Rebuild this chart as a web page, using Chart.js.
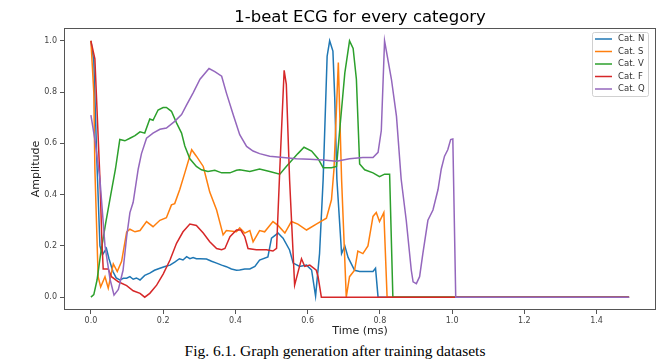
<!DOCTYPE html>
<html>
<head>
<meta charset="utf-8">
<script src="https://cdn.jsdelivr.net/npm/chart.js@4.4.1/dist/chart.umd.min.js"></script>
<style>
  html, body { margin: 0; padding: 0; background: #fff; }
  #wrap { position: relative; width: 670px; height: 364px; }
  #ecgChart { position: absolute; left: 0; top: 0; }
  #title {
    position: absolute; left: 64px; top: 7px; width: 592px; text-align: center;
    font-family: "DejaVu Sans", Verdana, sans-serif; font-size: 16.5px; line-height: 20px; color: #000;
  }
  #caption {
    position: absolute; left: 0; top: 342px; width: 670px; text-align: center;
    font-family: "Liberation Serif", "Times New Roman", serif; font-size: 15.5px; line-height: 18px; color: #000;
  }
</style>
</head>
<body>
<div id="wrap">
  <canvas id="ecgChart" width="670" height="338"></canvas>
  <div id="title">1-beat ECG for every category</div>
  <div id="caption">Fig. 6.1. Graph generation after training datasets</div>
</div>
<script>
// categories and tick labels
const categories = ['Cat. N', 'Cat. S', 'Cat. V', 'Cat. F', 'Cat. Q'];
const xTicks = [0, 0.2, 0.4, 0.6, 0.8, 1.0, 1.2, 1.4];
const yTicks = [0, 0.2, 0.4, 0.6, 0.8, 1.0];

// --- Cat. N ---
const timeN = [0, 0.008, 0.016, 0.025, 0.032, 0.043, 0.05, 0.061, 0.07, 0.08, 0.09, 0.099, 0.108, 0.117, 0.126, 0.136,
  0.149, 0.163, 0.176, 0.191, 0.205, 0.219, 0.232, 0.245, 0.255, 0.265, 0.274, 0.283, 0.292, 0.302, 0.32, 0.334,
  0.348, 0.362, 0.375, 0.389, 0.403, 0.412, 0.426, 0.44, 0.454, 0.467, 0.49, 0.5, 0.518, 0.532, 0.55, 0.56, 0.578,
  0.597, 0.611, 0.622, 0.633, 0.643, 0.654, 0.661, 0.67, 0.675, 0.681, 0.694, 0.703, 0.712, 0.73, 0.744, 0.76,
  0.781, 0.788, 0.795, 1.49];
const ampN = [1.0, 0.92, 0.55, 0.2, 0.165, 0.19, 0.15, 0.1, 0.075, 0.067, 0.074, 0.074, 0.08, 0.07, 0.075, 0.067,
  0.085, 0.094, 0.105, 0.113, 0.12, 0.125, 0.137, 0.15, 0.145, 0.158, 0.15, 0.155, 0.15, 0.15, 0.149, 0.14,
  0.133, 0.125, 0.119, 0.11, 0.105, 0.106, 0.11, 0.11, 0.12, 0.145, 0.157, 0.23, 0.25, 0.23, 0.184, 0.133, 0.12,
  0.125, 0.106, 0.004, 0.17, 0.46, 0.94, 1.0, 0.96, 0.78, 0.46, 0.17, 0.2, 0.155, 0.105, 0.1, 0.1,
  0.1, 0.113, 0, 0];

// --- Cat. S ---
const timeS = [0, 0.008, 0.011, 0.02, 0.027, 0.039, 0.048, 0.062, 0.073, 0.085, 0.099, 0.108, 0.122, 0.136, 0.154,
  0.172, 0.191, 0.209, 0.223, 0.232, 0.246, 0.26, 0.279, 0.292, 0.311, 0.32, 0.329, 0.348, 0.366, 0.375, 0.403,
  0.412, 0.426, 0.44, 0.449, 0.467, 0.481, 0.504, 0.518, 0.537, 0.555, 0.573, 0.597, 0.624, 0.652, 0.666, 0.673,
  0.685, 0.694, 0.707, 0.716, 0.73, 0.739, 0.753, 0.767, 0.781, 0.79, 0.799, 0.811, 0.82, 1.49];
const ampS = [1.0, 0.8, 0.5, 0.08, 0.04, 0.08, 0.035, 0.13, 0.1, 0.14, 0.255, 0.265, 0.255, 0.26, 0.295,
  0.275, 0.3, 0.31, 0.36, 0.365, 0.42, 0.485, 0.575, 0.55, 0.51, 0.46, 0.41, 0.34, 0.243, 0.26, 0.255,
  0.27, 0.25, 0.26, 0.216, 0.26, 0.255, 0.295, 0.28, 0.25, 0.295, 0.285, 0.262, 0.285, 0.308, 0.38, 0.5,
  0.915, 0.46, 0, 0.08, 0.105, 0.18, 0.17, 0.2, 0.315, 0.33, 0.295, 0.33, 0, 0];

// --- Cat. V ---
const timeV = [0, 0.008, 0.017, 0.027, 0.041, 0.055, 0.068, 0.08, 0.094, 0.108, 0.122, 0.136, 0.149, 0.163, 0.172,
  0.186, 0.2, 0.209, 0.223, 0.237, 0.251, 0.26, 0.274, 0.292, 0.306, 0.324, 0.343, 0.362, 0.385, 0.403, 0.412,
  0.44, 0.467, 0.495, 0.523, 0.541, 0.56, 0.573, 0.59, 0.611, 0.629, 0.643, 0.666, 0.68, 0.689, 0.703, 0.716,
  0.726, 0.735, 0.744, 0.758, 0.781, 0.799, 0.813, 0.827, 0.836, 1.49];
const ampV = [0, 0.01, 0.067, 0.17, 0.29, 0.4, 0.5, 0.615, 0.61, 0.62, 0.63, 0.645, 0.64, 0.695, 0.69,
  0.73, 0.74, 0.74, 0.725, 0.68, 0.64, 0.59, 0.54, 0.51, 0.497, 0.49, 0.495, 0.485, 0.485, 0.495, 0.497,
  0.49, 0.5, 0.49, 0.48, 0.51, 0.54, 0.56, 0.585, 0.57, 0.54, 0.505, 0.505, 0.51, 0.655, 0.875, 1.0,
  0.97, 0.85, 0.52, 0.497, 0.485, 0.47, 0.48, 0.48, 0, 0];

// --- Cat. F ---
const timeF = [0, 0.011, 0.025, 0.03, 0.034, 0.048, 0.057, 0.076, 0.099, 0.117, 0.136, 0.149, 0.163, 0.182, 0.2,
  0.219, 0.237, 0.255, 0.274, 0.292, 0.311, 0.329, 0.348, 0.362, 0.371, 0.385, 0.403, 0.415, 0.426, 0.435, 0.458,
  0.486, 0.504, 0.514, 0.523, 0.535, 0.541, 0.55, 0.564, 0.583, 0.592, 0.606, 0.624, 0.629, 0.638, 1.49];
const ampF = [1.0, 0.93, 0.46, 0.236, 0.11, 0.11, 0.08, 0.06, 0.045, 0.025, 0.015, 0, 0.015, 0.047, 0.09,
  0.145, 0.21, 0.255, 0.285, 0.28, 0.25, 0.216, 0.19, 0.185, 0.19, 0.236, 0.262, 0.262, 0.236, 0.19, 0.185,
  0.185, 0.18, 0.19, 0.5, 0.885, 0.83, 0.46, 0.047, 0.15, 0.12, 0.125, 0.105, 0.08, 0, 0];

// --- Cat. Q ---
const timeQ = [0, 0.011, 0.025, 0.039, 0.053, 0.064, 0.076, 0.089, 0.099, 0.108, 0.117, 0.131, 0.14, 0.154, 0.172,
  0.191, 0.209, 0.232, 0.251, 0.265, 0.283, 0.302, 0.327, 0.343, 0.362, 0.375, 0.394, 0.412, 0.431, 0.449, 0.467,
  0.495, 0.532, 0.569, 0.606, 0.643, 0.68, 0.716, 0.753, 0.781, 0.795, 0.804, 0.813, 0.832, 0.846, 0.859, 0.873,
  0.887, 0.892, 0.901, 0.91, 0.919, 0.933, 0.947, 0.961, 0.97, 0.979, 0.988, 0.996, 1.002, 1.01, 1.49];
const ampQ = [0.71, 0.615, 0.46, 0.2, 0.07, 0.008, 0.03, 0.105, 0.236, 0.33, 0.37, 0.5, 0.56, 0.62, 0.64,
  0.655, 0.66, 0.686, 0.712, 0.75, 0.797, 0.85, 0.892, 0.88, 0.862, 0.797, 0.712, 0.634, 0.588, 0.57, 0.56,
  0.55, 0.545, 0.54, 0.538, 0.535, 0.53, 0.54, 0.545, 0.545, 0.565, 0.65, 1.0, 0.85, 0.705, 0.46, 0.3,
  0.105, 0.06, 0.053, 0.08, 0.17, 0.3, 0.34, 0.42, 0.5, 0.55, 0.575, 0.615, 0.617, 0, 0];

const seriesTimes = [timeN, timeS, timeV, timeF, timeQ];
const seriesAmps = [ampN, ampS, ampV, ampF, ampQ];
const lineColors = ['#1f77b4', '#ff7f0e', '#2ca02c', '#d62728', '#9467bd'];

const FONT = '"DejaVu Sans", Verdana, sans-serif';
const AXIS_COLOR = '#555';

// legend drawn inside the plot, upper right (matplotlib style)
const innerLegend = {
  id: 'innerLegend',
  afterDraw(chart) {
    const { ctx, chartArea } = chart;
    const boxW = 56, rowH = 12.5, boxH = 64;
    const x0 = chartArea.right - 8 - boxW;
    const y0 = chartArea.top + 4;
    ctx.save();
    ctx.fillStyle = 'rgba(255,255,255,0.85)';
    ctx.strokeStyle = '#d0d0d0';
    ctx.lineWidth = 1;
    ctx.beginPath();
    ctx.roundRect(x0 + 0.5, y0 + 0.5, boxW, boxH, 2);
    ctx.fill();
    ctx.stroke();
    ctx.font = '8.5px ' + FONT;
    ctx.textBaseline = 'middle';
    chart.data.datasets.forEach((ds, i) => {
      const cy = y0 + 7 + i * rowH;
      ctx.strokeStyle = ds.borderColor;
      ctx.lineWidth = 1.5;
      ctx.beginPath();
      ctx.moveTo(x0 + 3, cy);
      ctx.lineTo(x0 + 20, cy);
      ctx.stroke();
      ctx.fillStyle = '#333';
      ctx.fillText(ds.label, x0 + 26, cy);
    });
    ctx.restore();
  }
};

// full box around the axes
const axesFrame = {
  id: 'axesFrame',
  afterDatasetsDraw(chart) {
    const { ctx, chartArea: a } = chart;
    ctx.save();
    ctx.strokeStyle = AXIS_COLOR;
    ctx.lineWidth = 1;
    ctx.strokeRect(Math.round(a.left) + 0.5, Math.round(a.top) + 0.5,
      Math.round(a.right - a.left) - 1, Math.round(a.bottom - a.top) - 1);
    ctx.restore();
  }
};

// later categories are drawn on top, like matplotlib
const datasets = categories.map((name, i) => ({
  label: name,
  data: seriesTimes[i].map((t, j) => ({ x: t, y: seriesAmps[i][j] })),
  borderColor: lineColors[i],
  borderWidth: 1.5,
  pointRadius: 0,
  tension: 0,
  fill: false,
  order: categories.length - i
}));

new Chart(document.getElementById('ecgChart'), {
  type: 'line',
  data: { datasets },
  options: {
    responsive: false,
    animation: false,
    layout: { padding: { left: 0, right: 14, top: 28, bottom: 0 } },
    plugins: {
      legend: { display: false },
      tooltip: { enabled: false },
      title: { display: false }
    },
    scales: {
      x: {
        type: 'linear',
        min: -0.0745,
        max: 1.5645,
        afterBuildTicks: scale => { scale.ticks = xTicks.map(v => ({ value: v })); },
        afterFit: scale => { scale.height = 28; },
        ticks: {
          color: '#444', padding: 2, maxRotation: 0,
          font: { family: FONT, size: 8 },
          callback: v => v.toFixed(1)
        },
        grid: { display: true, drawOnChartArea: false, drawTicks: true, tickLength: 4, color: AXIS_COLOR },
        border: { display: false },
        title: {
          display: true, text: 'Time (ms)', color: '#222',
          font: { family: FONT, size: 11 }, padding: { top: 0, bottom: 0 }
        }
      },
      y: {
        type: 'linear',
        min: -0.05,
        max: 1.05,
        afterBuildTicks: scale => { scale.ticks = yTicks.map(v => ({ value: v })); },
        afterFit: scale => { scale.width = 64; },
        ticks: {
          color: '#444', padding: 3,
          font: { family: FONT, size: 8 },
          callback: v => v.toFixed(1)
        },
        grid: { display: true, drawOnChartArea: false, drawTicks: true, tickLength: 4, color: AXIS_COLOR },
        border: { display: false },
        title: {
          display: true, text: 'Amplitude', color: '#222',
          font: { family: FONT, size: 11 }, padding: { top: 30, bottom: 0 }
        }
      }
    }
  },
  plugins: [axesFrame, innerLegend]
});
</script>
</body>
</html>
